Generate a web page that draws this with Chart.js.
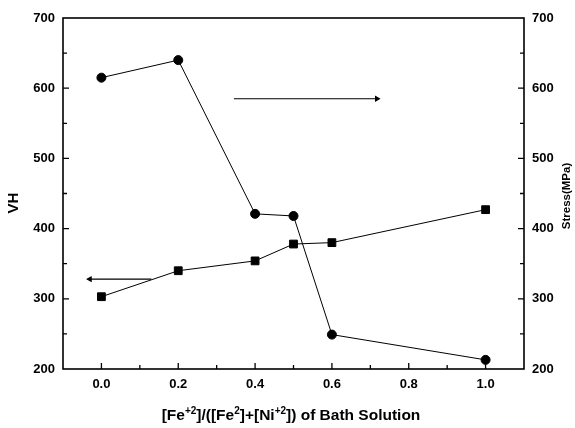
<!DOCTYPE html>
<html>
<head>
<meta charset="utf-8">
<script src="https://cdn.jsdelivr.net/npm/chart.js@4/dist/chart.umd.min.js"></script>
<style>
    html, body { margin: 0; padding: 0; background: #fff; }
    #wrap { width: 575px; height: 428px; }
</style>
</head>
<body>
<div id="wrap"><canvas id="chart"></canvas></div>
<script>
// Fe ratio of the bath vs hardness (squares, left) and stress (circles, right)
const feRatio = [0.0, 0.2, 0.4, 0.5, 0.6, 1.0];
const vhValues = [303, 340, 354, 378, 380, 427];
const stressValues = [615, 640, 421, 418, 249, 213];

const xTicks = [0.0, 0.2, 0.4, 0.6, 0.8, 1.0];
const yTicks = [200, 300, 400, 500, 600, 700];

// arrows telling which axis each curve belongs to
const arrowVHx = [-0.03, 0.13];
const arrowVHy = [328, 328];
const arrowStressX = [0.345, 0.717];
const arrowStressY = [585, 585];

const FONT = 'Liberation Sans, Arial, sans-serif';

const toPoints = (xs, ys) => xs.map((x, i) => ({ x: x, y: ys[i] }));

// frame, inward ticks and axis titles
const framePlugin = {
    id: 'frame',
    afterDraw(chart) {
        const ctx = chart.ctx;
        const a = chart.chartArea;
        const sx = chart.scales.x, sy = chart.scales.y;
        ctx.save();
        ctx.strokeStyle = '#000';
        ctx.lineWidth = 1.6;
        ctx.strokeRect(a.left, a.top, a.right - a.left, a.bottom - a.top);

        ctx.lineWidth = 1.3;
        ctx.beginPath();
        for (let v = 0; v <= 1.0001; v += 0.1) {
            const px = sx.getPixelForValue(v);
            const major = Math.round(v * 10) % 2 === 0;
            ctx.moveTo(px, a.bottom);
            ctx.lineTo(px, a.bottom - (major ? 6 : 4));
        }
        for (let v = 250; v < 700; v += 50) {
            const py = sy.getPixelForValue(v);
            const len = v % 100 === 0 ? 6 : 4;
            ctx.moveTo(a.left, py); ctx.lineTo(a.left + len, py);
            ctx.moveTo(a.right, py); ctx.lineTo(a.right - len, py);
        }
        ctx.stroke();

        ctx.fillStyle = '#000';
        ctx.textBaseline = 'middle';
        ctx.textAlign = 'center';

        ctx.save();
        ctx.translate(14, 203);
        ctx.rotate(-Math.PI / 2);
        ctx.font = 'bold 15px ' + FONT;
        ctx.fillText('VH', 0, 0);
        ctx.restore();

        ctx.save();
        ctx.translate(567, 196);
        ctx.rotate(-Math.PI / 2);
        ctx.font = 'bold 11.5px ' + FONT;
        ctx.fillText('Stress(MPa)', 0, 0);
        ctx.restore();

        // x title with superscripts
        const parts = [
            ['[Fe', false], ['+2', true], [']/([Fe', false], ['2', true],
            [']+[Ni', false], ['+2', true], [']) of Bath Solution', false]
        ];
        const mainFont = 'bold 15.5px ' + FONT;
        const supFont = 'bold 10px ' + FONT;
        let total = 0;
        parts.forEach(p => { ctx.font = p[1] ? supFont : mainFont; total += ctx.measureText(p[0]).width; });
        let x = 291 - total / 2;
        const base = 420;
        ctx.textAlign = 'left';
        ctx.textBaseline = 'alphabetic';
        parts.forEach(p => {
            ctx.font = p[1] ? supFont : mainFont;
            ctx.fillText(p[0], x, p[1] ? base - 6.5 : base);
            x += ctx.measureText(p[0]).width;
        });
        ctx.restore();
    }
};

const tickFont = { family: FONT, size: 13, weight: 'bold' };

new Chart(document.getElementById('chart'), {
    type: 'line',
    data: {
        datasets: [
            {
                label: 'VH',
                data: toPoints(feRatio, vhValues),
                yAxisID: 'y',
                borderColor: '#000',
                backgroundColor: '#000',
                borderWidth: 1,
                pointStyle: 'rect',
                pointRadius: 5.5,
                pointHoverRadius: 5.5
            },
            {
                label: 'Stress',
                data: toPoints(feRatio, stressValues),
                yAxisID: 'y2',
                borderColor: '#000',
                backgroundColor: '#000',
                borderWidth: 1,
                pointStyle: 'circle',
                pointRadius: 4.5,
                pointHoverRadius: 4.5
            },
            {
                label: 'arrowVH',
                data: toPoints(arrowVHx, arrowVHy),
                yAxisID: 'y',
                borderColor: '#000',
                backgroundColor: '#000',
                borderWidth: 1.2,
                pointStyle: 'triangle',
                pointRotation: -90,
                pointRadius: [2.5, 0]
            },
            {
                label: 'arrowStress',
                data: toPoints(arrowStressX, arrowStressY),
                yAxisID: 'y2',
                borderColor: '#000',
                backgroundColor: '#000',
                borderWidth: 1.2,
                pointStyle: 'triangle',
                pointRotation: 90,
                pointRadius: [0, 2.5]
            }
        ]
    },
    options: {
        responsive: true,
        maintainAspectRatio: false,
        animation: false,
        layout: { padding: { top: 18, left: 0, right: 0, bottom: 0 } },
        plugins: { legend: { display: false }, tooltip: { enabled: false } },
        scales: {
            x: {
                type: 'linear',
                min: -0.1,
                max: 1.1,
                afterBuildTicks: s => { s.ticks = xTicks.map(v => ({ value: v })); },
                afterFit: s => { s.height = 59; },
                grid: { display: false },
                border: { display: false },
                ticks: { color: '#000', font: tickFont, padding: 0, maxRotation: 0, callback: v => v.toFixed(1) }
            },
            y: {
                position: 'left',
                min: 200,
                max: 700,
                afterBuildTicks: s => { s.ticks = yTicks.map(v => ({ value: v })); },
                afterFit: s => { s.width = 63; },
                grid: { display: false },
                border: { display: false },
                ticks: { color: '#000', font: tickFont, padding: 0 }
            },
            y2: {
                position: 'right',
                min: 200,
                max: 700,
                afterBuildTicks: s => { s.ticks = yTicks.map(v => ({ value: v })); },
                afterFit: s => { s.width = 51; },
                grid: { display: false },
                border: { display: false },
                ticks: { color: '#000', font: tickFont, padding: 0 }
            }
        }
    },
    plugins: [framePlugin]
});
</script>
</body>
</html>
